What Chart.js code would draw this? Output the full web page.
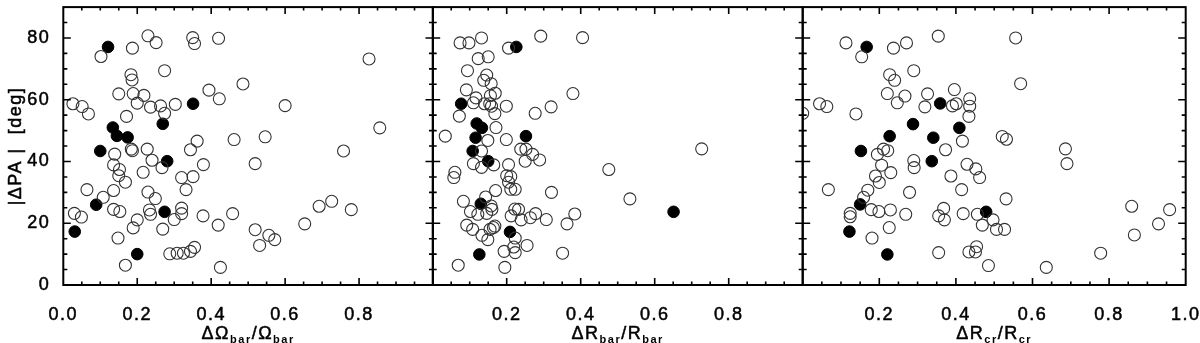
<!DOCTYPE html>
<html>
<head>
<meta charset="utf-8">
<script src="https://cdn.jsdelivr.net/npm/chart.js@4.4.0/dist/chart.umd.min.js"></script>
<style>
  html, body { margin: 0; padding: 0; background: #fff; }
  #wrap { position: relative; width: 1200px; height: 343px; }
  #wrap canvas { position: absolute; left: 0; top: 0; }
</style>
</head>
<body>
<div id="wrap">
  <canvas id="c1" width="1200" height="343"></canvas>
  <canvas id="c2" width="1200" height="343"></canvas>
  <canvas id="c3" width="1200" height="343"></canvas>
</div>
<script>
// |dPA| vs dOmega_bar/Omega_bar
const omegaOpenX = [0.026,0.030,0.049,0.051,0.068,0.064,0.102,0.108,0.136,0.136,0.136,0.139,0.152,0.150,0.148,0.153,0.150,0.168,0.171,0.168,0.184,0.187,0.187,0.183,0.186,0.189,0.200,0.189,0.200,0.218,0.216,0.227,0.229,0.229,0.236,0.233,0.236,0.240,0.249,0.251,0.263,0.269,0.267,0.274,0.274,0.288,0.300,0.303,0.308,0.320,0.320,0.320,0.325,0.332,0.344,0.344,0.350,0.355,0.351,0.355,0.362,0.378,0.379,0.394,0.420,0.422,0.419,0.425,0.458,0.462,0.486,0.519,0.519,0.531,0.546,0.556,0.572,0.600,0.653,0.692,0.726,0.758,0.779,0.827,0.856];
const omegaOpenY = [58.7,23.2,22.0,57.8,55.4,30.9,74.0,28.4,24.5,30.6,38.9,42.4,37.4,35.4,15.2,23.8,61.9,33.3,54.6,6.4,44.0,43.5,76.7,68.1,66.4,62.0,58.9,18.5,21.1,61.4,36.5,44.0,30.1,80.7,57.6,24.3,22.9,40.4,28.0,78.5,58.0,18.1,38.0,55.6,69.4,10.1,21.2,58.5,10.3,34.8,24.9,23.1,10.3,30.9,10.9,43.8,80.1,78.2,35.1,12.2,46.6,22.4,39.0,63.1,79.9,60.3,19.4,5.7,23.1,47.1,65.1,39.3,17.9,12.8,48.0,16.1,14.7,58.1,19.8,25.5,27.1,43.4,24.4,73.2,50.9];
const omegaFilledX = [0.031,0.089,0.100,0.121,0.134,0.145,0.174,0.200,0.269,0.274,0.281,0.351];
const omegaFilledY = [17.3,26.0,43.4,77.1,51.0,48.3,47.8,10.0,52.2,23.7,40.1,58.7];

// |dPA| vs dR_bar/R_bar
const rbarOpenX = [0.074,0.098,0.132,0.205,0.292,0.405,0.123,0.150,0.094,0.146,0.138,0.158,0.091,0.117,0.169,0.156,0.110,0.140,0.154,0.159,0.199,0.168,0.072,0.277,0.320,0.379,0.171,0.034,0.149,0.199,0.132,0.238,0.252,0.270,0.289,0.250,0.110,0.132,0.165,0.205,0.060,0.057,0.200,0.211,0.205,0.211,0.223,0.170,0.321,0.476,0.727,0.083,0.143,0.158,0.160,0.102,0.122,0.146,0.222,0.232,0.278,0.264,0.212,0.239,0.384,0.533,0.092,0.108,0.168,0.164,0.155,0.307,0.363,0.133,0.149,0.223,0.255,0.219,0.193,0.223,0.351,0.069,0.195];
const rbarOpenY = [78.4,78.4,80.0,76.7,80.6,80.1,73.3,73.9,69.4,68.0,66.3,65.2,63.2,60.6,62.1,61.3,59.0,58.7,58.7,57.9,57.9,55.5,54.7,55.6,57.7,62.0,51.0,48.2,46.8,47.1,43.4,44.0,44.0,42.3,40.5,40.1,39.3,38.1,38.9,39.0,36.5,34.8,35.4,35.1,33.3,31.0,31.0,30.6,30.0,37.4,44.1,27.1,28.5,25.6,24.5,23.8,22.9,23.2,24.6,24.5,23.1,21.8,22.4,21.1,23.0,27.9,19.4,18.0,19.1,18.6,18.0,21.2,19.8,16.1,14.7,15.2,12.8,12.3,10.9,10.5,10.3,6.4,5.7];
const rbarFilledX = [0.226,0.077,0.119,0.133,0.116,0.252,0.108,0.150,0.130,0.651,0.209,0.126];
const rbarFilledY = [77.1,58.7,52.3,50.9,47.7,48.2,43.4,40.1,26.3,23.7,17.2,9.9];

// |dPA| vs dR_cr/R_cr
const rcrOpenX = [0.000,0.044,0.063,0.067,0.113,0.154,0.139,0.124,0.124,0.170,0.159,0.179,0.199,0.181,0.190,0.200,0.195,0.206,0.211,0.222,0.230,0.229,0.226,0.221,0.227,0.240,0.237,0.247,0.267,0.271,0.290,0.269,0.279,0.290,0.291,0.319,0.326,0.354,0.355,0.355,0.368,0.370,0.373,0.387,0.391,0.396,0.401,0.415,0.417,0.419,0.429,0.434,0.436,0.436,0.434,0.452,0.454,0.451,0.456,0.462,0.469,0.485,0.497,0.506,0.527,0.521,0.532,0.531,0.556,0.569,0.636,0.686,0.690,0.778,0.859,0.866,0.929,0.958];
const rcrOpenY = [55.6,58.7,57.8,30.9,78.4,73.9,55.4,23.2,22.1,30.7,28.4,24.4,23.8,15.2,35.3,33.2,42.3,38.8,44.0,43.5,36.4,24.3,18.6,62.0,68.1,66.3,76.7,59.0,61.2,78.4,69.4,22.9,30.0,40.3,38.0,57.7,61.9,80.6,22.4,10.5,24.8,21.1,43.8,35.3,58.0,63.3,58.7,30.9,46.6,23.1,39.1,54.6,60.3,57.9,10.7,37.6,12.4,10.7,22.9,34.8,19.4,6.3,21.1,18.0,18.0,48.1,47.2,27.9,80.0,65.2,5.7,44.1,39.3,10.3,25.5,16.2,19.8,24.4];
const rcrFilledX = [0.167,0.359,0.288,0.409,0.227,0.341,0.152,0.337,0.150,0.479,0.122,0.221];
const rcrFilledY = [77.1,58.8,52.1,50.9,48.2,47.7,43.4,40.1,26.1,23.7,17.3,9.9];

const yTickLabels = [0, 20, 40, 60, 80];
const xTickLabels1 = ['0.0', '0.2', '0.4', '0.6', '0.8'];
const xTickLabels2 = ['0.2', '0.4', '0.6', '0.8'];
const xTickLabels3 = ['0.2', '0.4', '0.6', '0.8', '1.0'];
const xTitle1 = [['ΔΩ', 0], ['bar', 1], ['/Ω', 0], ['bar', 1]];
const xTitle2 = [['ΔR', 0], ['bar', 1], ['/R', 0], ['bar', 1]];
const xTitle3 = [['ΔR', 0], ['cr', 1], ['/R', 0], ['cr', 1]];
const yTitle = '|ΔPA |  [deg]';

const FONT = 'Liberation Sans, Arial, Helvetica, sans-serif';

function pts(xs, ys) {
  return xs.map((x, i) => ({ x: x, y: ys[i] }));
}

// frame, inward tick marks and axis titles
const framePlugin = {
  id: 'frame',
  beforeDraw(chart) {
    chart.ctx.letterSpacing = '1.5px';
  },
  afterDraw(chart, args, opts) {
    const ctx = chart.ctx;
    const a = chart.chartArea;
    const xs = chart.scales.x, ys = chart.scales.y;
    ctx.save();
    ctx.strokeStyle = '#000';
    ctx.lineWidth = 1.6;
    ctx.beginPath();
    for (let v = 5; v < 90; v += 5) {
      const py = ys.getPixelForValue(v);
      const len = v % 20 === 0 ? 7.5 : 4;
      ctx.moveTo(a.left, py); ctx.lineTo(a.left + len, py);
      ctx.moveTo(a.right, py); ctx.lineTo(a.right - len, py);
    }
    for (let i = 1; i < 20; i++) {
      const px = xs.getPixelForValue(i * 0.05);
      const len = i % 4 === 0 ? 7 : 3.5;
      ctx.moveTo(px, a.bottom); ctx.lineTo(px, a.bottom - len);
      ctx.moveTo(px, a.top); ctx.lineTo(px, a.top + len);
    }
    ctx.stroke();
    ctx.lineWidth = 2;
    ctx.strokeRect(a.left, a.top, a.right - a.left, a.bottom - a.top);

    // x title with subscripts
    ctx.fillStyle = '#000';
    ctx.lineWidth = 0.5;
    ctx.textBaseline = 'alphabetic';
    ctx.textAlign = 'left';
    const mainF = '18px ' + FONT, subF = 'bold 11px ' + FONT;
    let w = 0;
    opts.title.forEach(p => { ctx.font = p[1] ? subF : mainF; w += ctx.measureText(p[0]).width; });
    let x = (a.left + a.right) / 2 - w / 2;
    opts.title.forEach(p => {
      ctx.font = p[1] ? subF : mainF;
      const ty = p[1] ? 342.5 : 339;
      ctx.fillText(p[0], x, ty);
      if (!p[1]) ctx.strokeText(p[0], x, ty);
      x += ctx.measureText(p[0]).width;
    });

    if (opts.yTitle) {
      ctx.translate(20.7, (a.top + a.bottom) / 2);
      ctx.rotate(-Math.PI / 2);
      ctx.textAlign = 'center';
      ctx.font = '18px ' + FONT;
      ctx.fillText(opts.yTitle, 0, 0);
      ctx.strokeText(opts.yTitle, 0, 0);
    }
    ctx.restore();
    ctx.letterSpacing = '0px';
  }
};

function makeChart(id, openX, openY, filledX, filledY, xLabels, title, pad, showY) {
  new Chart(document.getElementById(id), {
    type: 'scatter',
    data: {
      datasets: [{
        data: pts(openX, openY),
        pointRadius: 6,
        pointBorderWidth: 1.1,
        pointBorderColor: '#333',
        pointBackgroundColor: 'rgba(0,0,0,0)',
        clip: 0
      }, {
        data: pts(filledX, filledY),
        pointRadius: 5.8,
        pointBorderWidth: 1,
        pointBorderColor: '#000',
        pointBackgroundColor: '#000',
        clip: 0
      }]
    },
    options: {
      responsive: false,
      animation: false,
      devicePixelRatio: 1,
      events: [],
      layout: { padding: pad },
      plugins: {
        legend: { display: false },
        tooltip: { enabled: false },
        frame: { title: title, yTitle: showY ? yTitle : null }
      },
      scales: {
        x: {
          type: 'linear', min: 0, max: 1,
          afterFit: s => { s.height = 58; s.paddingLeft = 0; s.paddingRight = 0; },
          grid: { display: false },
          border: { display: false },
          ticks: {
            stepSize: 0.2, padding: 11, autoSkip: false, maxRotation: 0,
            color: '#000', font: { family: FONT, size: 18 },
            textStrokeColor: '#000', textStrokeWidth: 0.5,
            callback: v => { const t = v.toFixed(1); return xLabels.includes(t) ? t : ''; }
          }
        },
        y: {
          type: 'linear', min: 0, max: 90,
          display: showY,
          afterFit: s => { s.width = showY ? 63.3 : 0; s.paddingTop = 0; s.paddingBottom = 0; },
          grid: { display: false },
          border: { display: false },
          ticks: {
            stepSize: 20, padding: 5, autoSkip: false,
            color: '#000', font: { family: FONT, size: 18 },
            textStrokeColor: '#000', textStrokeWidth: 0.5,
            callback: v => yTickLabels.includes(v) ? String(v) : ''
          }
        }
      }
    },
    plugins: [framePlugin]
  });
}

makeChart('c1', omegaOpenX, omegaOpenY, omegaFilledX, omegaFilledY, xTickLabels1, xTitle1,
  { left: 0, right: 767, top: 3.5, bottom: 0 }, true);
makeChart('c2', rbarOpenX, rbarOpenY, rbarFilledX, rbarFilledY, xTickLabels2, xTitle2,
  { left: 432.7, right: 397.3, top: 3.5, bottom: 0 }, false);
makeChart('c3', rcrOpenX, rcrOpenY, rcrFilledX, rcrFilledY, xTickLabels3, xTitle3,
  { left: 802.7, right: 14.3, top: 3.5, bottom: 0 }, false);
</script>
</body>
</html>
